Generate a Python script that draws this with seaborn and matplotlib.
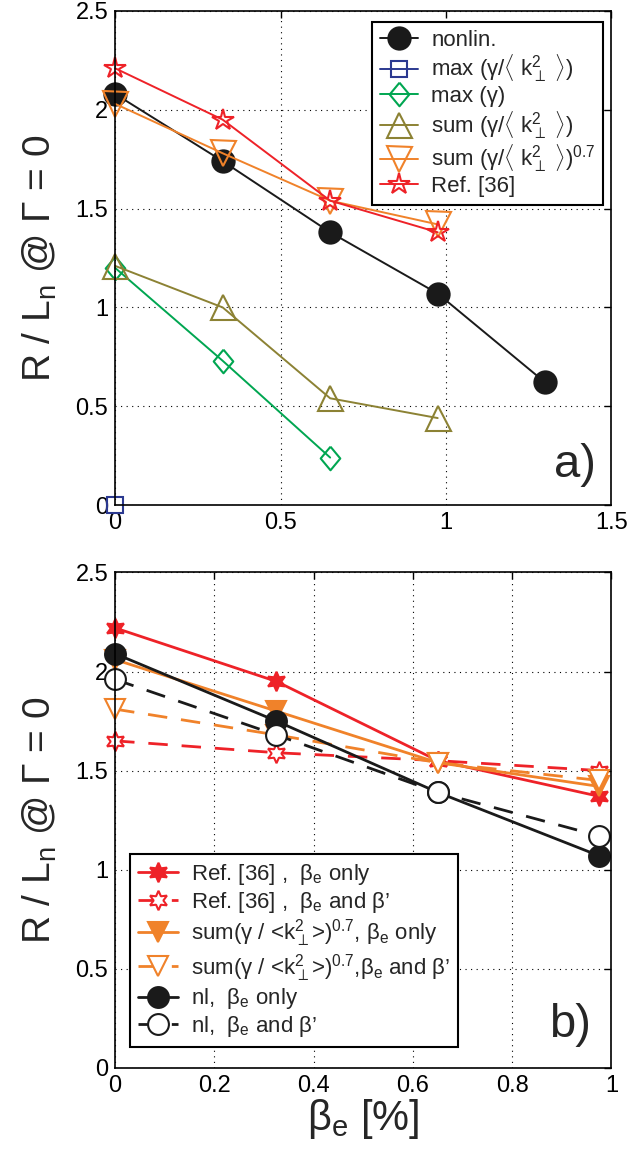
import numpy as np
import matplotlib
matplotlib.use("Agg")
import matplotlib.pyplot as plt
import seaborn as sns

# ---- data: panel a) ----
beta_a = [0.0, 0.325, 0.65, 0.975, 1.3]
nonlin_a = [2.08, 1.74, 1.38, 1.07, 0.62]
max_gk_a = [0.0]
max_g_a = [1.20, 0.73, 0.24]
sum_gk_a = [1.21, 1.00, 0.54, 0.44]
sum_gk07_a = [2.03, 1.78, 1.54, 1.42]
ref36_a = [2.21, 1.95, 1.54, 1.38]

# ---- data: panel b) ----
beta_b = [0.0, 0.325, 0.65, 0.975]
ref_only = [2.22, 1.95, 1.55, 1.37]
ref_bp = [1.65, 1.59, 1.55, 1.50]
sum_only = [2.06, 1.80, 1.54, 1.42]
sum_bp = [1.81, 1.68, 1.54, 1.45]
nl_only = [2.09, 1.75, 1.39, 1.07]
nl_bp = [1.96, 1.68, 1.39, 1.17]

labels_a = [
    "nonlin.",
    r"max (γ/$\langle\ \mathregular{k_\perp^2}\ \rangle$)",
    "max (γ)",
    r"sum (γ/$\langle\ \mathregular{k_\perp^2}\ \rangle$)",
    r"sum (γ/$\langle\ \mathregular{k_\perp^2}\ \rangle)^{\mathregular{0.7}}$",
    "Ref. [36]",
]
labels_b = [
    r"Ref. [36] ,  β$_\mathregular{e}$ only",
    r"Ref. [36] ,  β$_\mathregular{e}$ and β’",
    r"sum(γ / <k$^\mathregular{2}_\perp$>)$^\mathregular{0.7}$, β$_\mathregular{e}$ only",
    r"sum(γ / <k$^\mathregular{2}_\perp$>)$^\mathregular{0.7}$,β$_\mathregular{e}$ and β’",
    r"nl,  β$_\mathregular{e}$ only",
    r"nl,  β$_\mathregular{e}$ and β’",
]

BLACK = "#1a1a1a"
BLUE = "#2b3990"
GREEN = "#00a651"
OLIVE = "#8c8234"
ORANGE = "#f0822a"
RED = "#ee2228"

sns.set_style("white")
plt.rcParams["font.family"] = ["Liberation Sans", "DejaVu Sans"]
plt.rcParams["mathtext.fontset"] = "custom"
plt.rcParams["mathtext.rm"] = "Liberation Sans"
plt.rcParams["mathtext.it"] = "Liberation Sans:italic"
plt.rcParams["mathtext.bf"] = "Liberation Sans:bold"
plt.rcParams["mathtext.sf"] = "Liberation Sans"
plt.rcParams["mathtext.fallback"] = "cm"

diamond = [(0, 1), (0.83, 0), (0, -1), (-0.83, 0), (0, 1)]
hexagram = (6, 1, 0)
DASH = (0, (7, 5))

fig = plt.figure(figsize=(6.29, 11.53), dpi=100)
ax_a = fig.add_axes([0.183, 0.562, 0.789, 0.4285])
ax_b = fig.add_axes([0.183, 0.074, 0.789, 0.4295])


def draw(ax, x, y, color, marker, ms, label, ls="-", lw=1.4, mfc="none", mew=1.5):
    sns.lineplot(x=x[:len(y)], y=y, ax=ax, color=color, marker=marker,
                 markersize=ms, markerfacecolor=mfc, markeredgecolor=color,
                 markeredgewidth=mew, linewidth=lw, linestyle=ls,
                 label=label, estimator=None, sort=False, clip_on=False)


# panel a)
draw(ax_a, beta_a, nonlin_a, BLACK, "o", 16, labels_a[0], mfc=BLACK)
draw(ax_a, beta_a, max_gk_a, BLUE, "s", 11, labels_a[1])
draw(ax_a, beta_a, max_g_a, GREEN, diamond, 17, labels_a[2])
draw(ax_a, beta_a, sum_gk_a, OLIVE, "^", 18, labels_a[3])
draw(ax_a, beta_a, sum_gk07_a, ORANGE, "v", 18, labels_a[4])
draw(ax_a, beta_a, ref36_a, RED, "*", 16, labels_a[5])

# panel b)
draw(ax_b, beta_b, ref_only, RED, hexagram, 14, labels_b[0], lw=2, mfc=RED)
draw(ax_b, beta_b, ref_bp, RED, hexagram, 14, labels_b[1], ls=DASH, lw=2, mfc="white")
draw(ax_b, beta_b, sum_only, ORANGE, "v", 15, labels_b[2], lw=2, mfc=ORANGE)
draw(ax_b, beta_b, sum_bp, ORANGE, "v", 15, labels_b[3], ls=DASH, lw=2, mfc="white")
draw(ax_b, beta_b, nl_only, BLACK, "o", 15, labels_b[4], lw=2, mfc=BLACK)
draw(ax_b, beta_b, nl_bp, BLACK, "o", 15, labels_b[5], ls=DASH, lw=2, mfc="white")

ylabel = r"R / L$_\mathregular{n}$ @ Γ = 0"
for ax in (ax_a, ax_b):
    ax.set_ylim(0, 2.5)
    ax.set_yticks([0, 0.5, 1, 1.5, 2, 2.5])
    ax.set_yticklabels(["0", "0.5", "1", "1.5", "2", "2.5"])
    ax.grid(True, color="black", linestyle=(0, (1, 4)), linewidth=0.8)
    ax.set_axisbelow(True)
    ax.tick_params(direction="in", length=5, width=1, top=True, right=True,
                   labelsize=17, colors="black", pad=5)
    for sp in ax.spines.values():
        sp.set_color("black")
        sp.set_linewidth(1.2)
    ax.set_ylabel(ylabel, fontsize=28, labelpad=12)
    ax.set_facecolor("white")

ax_a.set_xlim(0, 1.5)
ax_a.set_xticks([0, 0.5, 1, 1.5])
ax_a.set_xticklabels(["0", "0.5", "1", "1.5"])
ax_a.set_xlabel("")

ax_b.set_xlim(0, 1)
ax_b.set_xticks([0, 0.2, 0.4, 0.6, 0.8, 1])
ax_b.set_xticklabels(["0", "0.2", "0.4", "0.6", "0.8", "1"])
ax_b.set_xlabel(r"β$_\mathregular{e}$ [%]", fontsize=30, labelpad=0)

leg_a = ax_a.legend(loc="upper right", bbox_to_anchor=(0.984, 0.978),
                    borderaxespad=0, fontsize=16, handlelength=1.7,
                    handletextpad=0.6, labelspacing=0.08, frameon=True,
                    fancybox=False, framealpha=1, edgecolor="black",
                    borderpad=0.35)
leg_a.get_frame().set_linewidth(1.5)

leg_b = ax_b.legend(loc="lower left", bbox_to_anchor=(0.030, 0.042),
                    borderaxespad=0, fontsize=16, handlelength=1.8,
                    handletextpad=0.6, labelspacing=0.12, frameon=True,
                    fancybox=False, framealpha=1, edgecolor="black",
                    borderpad=0.35)
leg_b.get_frame().set_linewidth(1.5)

ax_a.text(0.927, 0.081, "a)", transform=ax_a.transAxes, fontsize=34,
          ha="center", va="center")
ax_b.text(0.917, 0.086, "b)", transform=ax_b.transAxes, fontsize=34,
          ha="center", va="center")

fig.savefig("out.png", dpi=100, facecolor="white")
